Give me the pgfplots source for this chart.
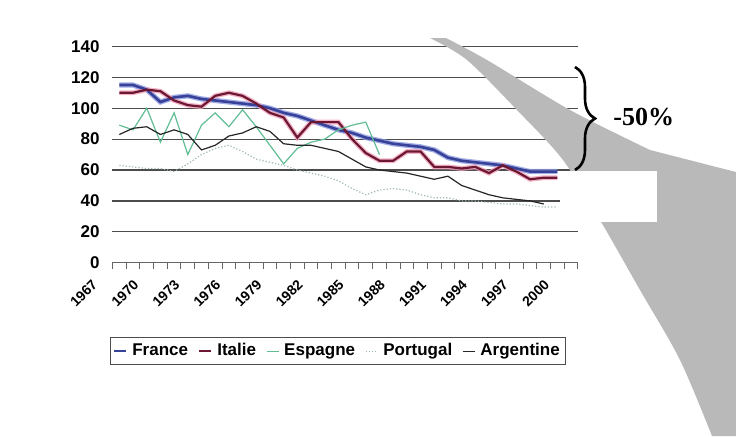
\documentclass[border=0pt]{standalone}
\usepackage{pgfplots}
\pgfplotsset{compat=1.18}
\usepackage{pgfplotstable}
\usepackage{fontspec}
\setmainfont{Liberation Sans}
\newfontfamily\serifbold{Liberation Serif}
\usetikzlibrary{decorations.pathreplacing}

\definecolor{frcore}{rgb}{0.22,0.26,0.6}
\definecolor{frhalo}{rgb}{0.55,0.6,0.88}
\definecolor{itcore}{rgb}{0.42,0.1,0.2}
\definecolor{ithalo}{rgb}{0.95,0.62,0.72}
\definecolor{esgreen}{rgb}{0.38,0.74,0.58}
\definecolor{ptgreen}{rgb}{0.62,0.72,0.68}

\pgfplotstableread{
yr v
1967 115
1968 115
1969 112
1970 104
1971 107
1972 108
1973 106
1974 105
1975 104
1976 103
1977 102
1978 100
1979 97
1980 95
1981 92
1982 89
1983 86
1984 84
1985 81
1986 79
1987 77
1988 76
1989 75
1990 73
1991 68
1992 66
1993 65
1994 64
1995 63
1996 61
1997 59
1998 59
1999 59
}\france

\pgfplotstableread{
yr v
1967 110
1968 110
1969 112
1970 111
1971 105
1972 102
1973 101
1974 108
1975 110
1976 108
1977 103
1978 97
1979 94
1980 81
1981 91
1982 91
1983 91
1984 80
1985 71
1986 66
1987 66
1988 72
1989 72
1990 62
1991 62
1992 61
1993 62
1994 58
1995 63
1996 59
1997 54
1998 55
1999 55
}\italie

\pgfplotstableread{
yr v
1967 89
1968 86
1969 100
1970 78
1971 97
1972 70
1973 89
1974 97
1975 88
1976 99
1977 88
1978 76
1979 64
1980 74
1981 78
1982 80
1983 86
1984 89
1985 91
1986 70
}\espagne

\pgfplotstableread{
yr v
1967 63
1968 62
1969 61
1970 61
1971 59
1972 64
1973 70
1974 74
1975 76
1976 72
1977 67
1978 65
1979 63
1980 60
1981 58
1982 56
1983 53
1984 48
1985 44
1986 47
1987 48
1988 47
1989 44
1990 42
1991 42
1992 40
1993 40
1994 39
1995 38
1996 38
1997 37
1998 36
1999 36
}\portugal

\pgfplotstableread{
yr v
1967 83
1968 87
1969 88
1970 83
1971 86
1972 83
1973 73
1974 76
1975 82
1976 84
1977 88
1978 85
1979 77
1980 76
1981 76
1982 74
1983 72
1984 67
1985 62
1986 60
1987 59
1988 58
1989 56
1990 54
1991 56
1992 50
1993 47
1994 44
1995 42
1996 41
1997 40
1998 38
}\argentine

\begin{document}
\begin{tikzpicture}
\useasboundingbox (0,0) rectangle (368pt,-218pt);
\begin{axis}[
  at={(56.25pt,-131.35pt)}, anchor=south west,
  scale only axis, width=232.75pt, height=108.15pt,
  xmin=1966.5, xmax=2000.5, ymin=0, ymax=140,
  axis x line*=bottom, axis y line*=left,
  y axis line style={draw=none},
  x axis line style={black!60, line width=0.6pt, -},
  /pgf/number format/assume math mode=true,
  /pgf/number format/1000 sep={},
  ytick={0,20,...,140},
  ymajorgrids,
  grid style={black!70, line width=0.6pt},
  major tick length=0pt,
  xtick={1967,1970,...,2000},
  minor xtick={1966.5,1967.5,...,2000.5},
  minor tick length=3pt,
  minor x tick style={black!60, line width=0.5pt},
  tick align=outside,
  xticklabel style={xshift=-14pt, yshift=-7.8pt, rotate=45, anchor=north east, inner sep=0pt,
    font=\fontsize{7}{8}\selectfont\bfseries},
  yticklabel style={anchor=east, inner sep=0pt, xshift=-6.25pt,
    font=\fontsize{8.5}{10}\selectfont\bfseries},
  legend style={at={(0.485,-0.3435)}, anchor=north, legend columns=5,
    draw=black!70, line width=0.5pt, inner sep=1pt,
    font=\fontsize{8.5}{10}\selectfont\bfseries,
    /tikz/every even column/.append style={column sep=3pt},
    /tikz/every odd column/.append style={column sep=0.5pt}},
  legend image code/.code={\draw[#1] (0pt,0pt) -- (6pt,0pt);},
]
\addplot[frhalo, line width=2.6pt, opacity=0.8, forget plot] table[x=yr,y=v] {\france};
\addplot[ithalo, line width=2.4pt, opacity=0.8, forget plot] table[x=yr,y=v] {\italie};
\addplot[frcore, line width=1.3pt] table[x=yr,y=v] {\france};
\addlegendentry{France}
\addplot[itcore, line width=1.1pt] table[x=yr,y=v] {\italie};
\addlegendentry{Italie}
\addplot[esgreen, line width=0.6pt] table[x=yr,y=v] {\espagne};
\addlegendentry{Espagne}
\addplot[ptgreen, line width=0.6pt, densely dotted] table[x=yr,y=v] {\portugal};
\addlegendentry{Portugal}
\addplot[black!85, line width=0.6pt] table[x=yr,y=v] {\argentine};
\addlegendentry{Argentine}
\end{axis}
\begin{scope}[x=0.5pt,y=-0.5pt]
\fill[gray!55] plot[smooth] coordinates {(430,38) (467,60) (517,110) (563,160) (600,220) (640,290) (680,360) (712,436)}
  -- (736,436) -- (736,172) -- plot[smooth] coordinates {(650,150) (570,110) (487,60) (446,38)} -- cycle;
\fill[white] (560,171) rectangle (657,222);
\draw[line width=1.3pt, decorate, decoration={brace, amplitude=10pt}] (575,67) -- (575,170);
\node[font=\serifbold\fontsize{13}{15}\selectfont\bfseries, anchor=west, inner sep=0pt] at (613,117) {-50\%};
\end{scope}
\end{tikzpicture}
\end{document}
